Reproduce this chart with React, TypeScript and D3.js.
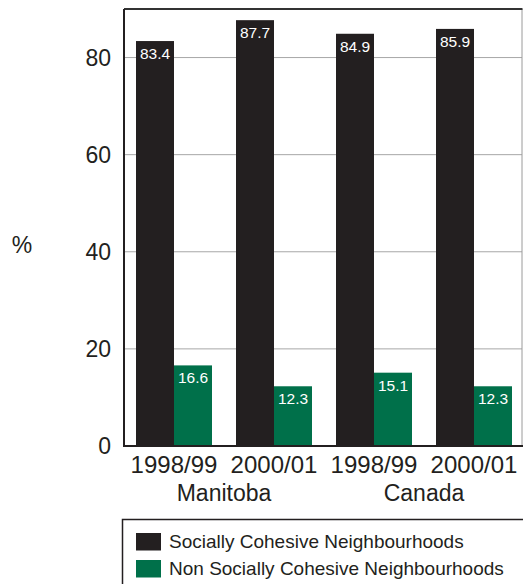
import React from "react";
import * as d3 from "d3";

const periods = ["1998/99", "2000/01", "1998/99", "2000/01"];
const regions = ["Manitoba", "Canada"];
const seriesNames = ["Socially Cohesive Neighbourhoods", "Non Socially Cohesive Neighbourhoods"];
const cohesive = [83.4, 87.7, 84.9, 85.9];
const nonCohesive = [16.6, 12.3, 15.1, 12.3];
const yTicks = [0, 20, 40, 60, 80];
const colors = ["#231f20", "#00704a"];

const W = 523;
const H = 584;
const M = { left: 124, right: 522, top: 9, bottom: 446 };
const FONT = "'Liberation Sans', Arial, Helvetica, sans-serif";

export default function App() {
  const keys = periods.map((_, i) => String(i));
  const x = d3.scaleBand<string>().domain(keys).range([M.left, M.left + 400]).padding(0);
  const xs = d3.scaleBand<string>().domain(["0", "1"]).range([12, 88]).padding(0);
  const y = d3.scaleLinear().domain([0, 90]).range([M.bottom, M.top]);
  const series = [cohesive, nonCohesive];

  return (
    <svg
      width={W}
      height={H}
      style={{ position: "absolute", left: 0, top: 0, fontFamily: FONT }}
    >
      <rect x={0} y={0} width={W} height={H} fill="#fff" />
      {/* grid lines */}
      {yTicks.filter((t) => t > 0).map((t) => (
        <line key={t} x1={M.left} x2={M.right} y1={y(t)} y2={y(t)} stroke="#a7a7a7" strokeWidth={1} />
      ))}
      {/* frame */}
      <line x1={M.right} x2={M.right} y1={M.top} y2={M.bottom} stroke="#9a9a9a" strokeWidth={1} />
      <line x1={M.left} x2={M.right + 0.5} y1={M.top} y2={M.top} stroke="#333" strokeWidth={2} />

      {/* bars */}
      {series.map((vals, s) =>
        vals.map((v, i) => {
          const bx = (x(String(i)) as number) + (xs(String(s)) as number);
          const bw = xs.bandwidth();
          return (
            <g key={`${s}-${i}`}>
              <rect x={bx} y={y(v)} width={bw} height={y(0) - y(v)} fill={colors[s]} />
              <text
                x={bx + bw / 2}
                y={y(v) + 18}
                textAnchor="middle"
                fill="#fff"
                fontSize={15.5}
              >
                {v.toFixed(1)}
              </text>
            </g>
          );
        })
      )}

      {/* axes */}
      <line x1={M.left} x2={M.left} y1={M.top} y2={M.bottom + 1} stroke="#231f20" strokeWidth={2} />
      <line x1={M.left - 1} x2={M.right + 1} y1={M.bottom} y2={M.bottom} stroke="#231f20" strokeWidth={2} />

      {yTicks.map((t) => (
        <text key={t} x={M.left - 13} y={y(t) + 8} textAnchor="end" fontSize={23} fill="#231f20">
          {t}
        </text>
      ))}
      <text x={22} y={253} textAnchor="middle" fontSize={23} fill="#231f20">%</text>

      {periods.map((p, i) => (
        <text
          key={i}
          x={(x(String(i)) as number) + x.bandwidth() / 2}
          y={473}
          textAnchor="middle"
          fontSize={24}
          fill="#231f20"
        >
          {p}
        </text>
      ))}
      {regions.map((r, j) => (
        <text
          key={r}
          x={(x(String(j * 2 + 1)) as number)}
          y={501}
          textAnchor="middle"
          fontSize={23}
          fill="#231f20"
        >
          {r}
        </text>
      ))}

      {/* legend */}
      <rect x={122.5} y={519.5} width={410} height={80} fill="none" stroke="#231f20" strokeWidth={1.5} />
      {seriesNames.map((n, s) => (
        <g key={n} transform={`translate(136, ${533 + s * 27})`}>
          <rect x={0} y={0} width={25} height={17.5} fill={colors[s]} />
          <text x={33} y={14.5} fontSize={19} fill="#231f20">{n}</text>
        </g>
      ))}
    </svg>
  );
}
